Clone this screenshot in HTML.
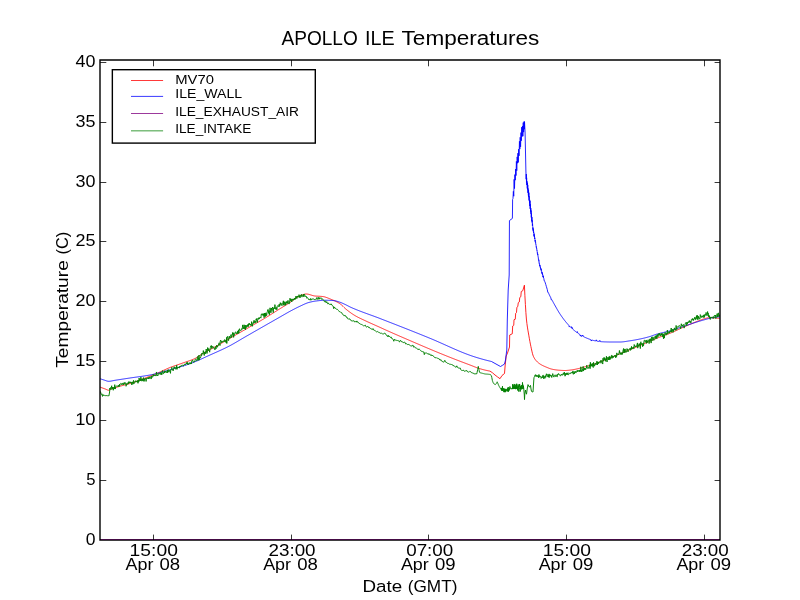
<!DOCTYPE html>
<html><head><meta charset="utf-8"><title>APOLLO ILE Temperatures</title>
<style>html,body{margin:0;padding:0;background:#fff;}body{width:800px;height:600px;overflow:hidden;font-family:"Liberation Sans", sans-serif;}svg{display:block;}</style></head>
<body>
<svg width="800" height="600" viewBox="0 0 800 600" font-family='"Liberation Sans", sans-serif' fill="#000">
<rect x="0" y="0" width="800" height="600" fill="#ffffff"/>
<defs><clipPath id="c"><rect x="100.0" y="60.0" width="620.0" height="480.6"/></clipPath></defs>
<g clip-path="url(#c)" fill="none" stroke-linejoin="round" stroke-linecap="butt">
<path d="M100.00,387.10 L100.50,387.28 L101.00,387.46 L101.50,387.64 L102.00,387.82 L102.50,388.00 L103.00,388.18 L103.50,388.36 L104.00,388.54 L104.50,388.72 L105.00,388.90 L105.50,389.10 L106.00,389.33 L106.50,389.57 L107.00,389.80 L107.50,390.00 L108.00,390.15 L108.50,390.24 L109.00,390.22 L109.50,390.04 L110.00,389.75 L110.50,389.42 L111.00,389.12 L111.50,388.90 L112.00,388.71 L112.50,388.52 L113.00,388.35 L113.50,388.18 L114.00,388.01 L114.50,387.85 L115.00,387.70 L115.50,387.55 L116.00,387.40 L116.50,387.25 L117.00,387.11 L117.50,386.97 L118.00,386.83 L118.50,386.68 L119.00,386.54 L119.50,386.40 L120.00,386.25 L120.50,386.10 L121.00,385.96 L121.50,385.82 L122.00,385.68 L122.50,385.54 L123.00,385.40 L123.50,385.27 L124.00,385.13 L124.50,385.00 L125.00,384.87 L125.50,384.73 L126.00,384.60 L126.50,384.47 L127.00,384.33 L127.50,384.20 L128.00,384.07 L128.50,383.93 L129.00,383.79 L129.50,383.65 L130.00,383.51 L130.50,383.36 L131.00,383.21 L131.50,383.06 L132.00,382.91 L132.50,382.75 L133.00,382.59 L133.50,382.42 L134.00,382.26 L134.50,382.08 L135.00,381.91 L135.50,381.73 L136.00,381.55 L136.50,381.37 L137.00,381.19 L137.50,381.00 L138.00,380.81 L138.50,380.62 L139.00,380.43 L139.50,380.24 L140.00,380.05 L140.50,379.85 L141.00,379.66 L141.50,379.46 L142.00,379.27 L142.50,379.07 L143.00,378.88 L143.50,378.68 L144.00,378.49 L144.50,378.29 L145.00,378.10 L145.50,377.91 L146.00,377.71 L146.50,377.52 L147.00,377.33 L147.50,377.13 L148.00,376.94 L148.50,376.74 L149.00,376.55 L149.50,376.35 L150.00,376.15 L150.50,375.96 L151.00,375.76 L151.50,375.56 L152.00,375.36 L152.50,375.16 L153.00,374.96 L153.50,374.75 L154.00,374.55 L154.50,374.35 L155.00,374.14 L155.50,373.94 L156.00,373.73 L156.50,373.52 L157.00,373.31 L157.50,373.10 L158.00,372.89 L158.50,372.67 L159.00,372.45 L159.50,372.23 L160.00,372.00 L160.50,371.77 L161.00,371.54 L161.50,371.31 L162.00,371.08 L162.50,370.84 L163.00,370.61 L163.50,370.37 L164.00,370.14 L164.50,369.91 L165.00,369.67 L165.50,369.44 L166.00,369.21 L166.50,368.99 L167.00,368.76 L167.50,368.54 L168.00,368.33 L168.50,368.11 L169.00,367.90 L169.50,367.70 L170.00,367.50 L170.50,367.30 L171.00,367.11 L171.50,366.92 L172.00,366.74 L172.50,366.56 L173.00,366.38 L173.50,366.20 L174.00,366.02 L174.50,365.85 L175.00,365.67 L175.50,365.50 L176.00,365.33 L176.50,365.16 L177.00,364.99 L177.50,364.82 L178.00,364.65 L178.50,364.49 L179.00,364.32 L179.50,364.15 L180.00,363.98 L180.50,363.80 L181.00,363.63 L181.50,363.46 L182.00,363.28 L182.50,363.10 L183.00,362.92 L183.50,362.75 L184.00,362.57 L184.50,362.40 L185.00,362.24 L185.50,362.07 L186.00,361.90 L186.50,361.74 L187.00,361.57 L187.50,361.40 L188.00,361.24 L188.50,361.07 L189.00,360.90 L189.50,360.72 L190.00,360.54 L190.50,360.36 L191.00,360.18 L191.50,359.99 L192.00,359.80 L192.50,359.60 L193.00,359.39 L193.50,359.18 L194.00,358.96 L194.50,358.73 L195.00,358.50 L195.50,358.25 L196.00,357.98 L196.50,357.69 L197.00,357.39 L197.50,357.07 L198.00,356.74 L198.50,356.40 L199.00,356.06 L199.50,355.72 L200.00,355.37 L200.50,355.03 L201.00,354.70 L201.50,354.37 L202.00,354.05 L202.50,353.75 L203.00,353.46 L203.50,353.17 L204.00,352.88 L204.50,352.60 L205.00,352.32 L205.50,352.04 L206.00,351.76 L206.50,351.49 L207.00,351.22 L207.50,350.95 L208.00,350.68 L208.50,350.41 L209.00,350.14 L209.50,349.88 L210.00,349.61 L210.50,349.34 L211.00,349.08 L211.50,348.81 L212.00,348.54 L212.50,348.27 L213.00,348.00 L213.50,347.73 L214.00,347.46 L214.50,347.18 L215.00,346.90 L215.50,346.62 L216.00,346.34 L216.50,346.06 L217.00,345.77 L217.50,345.49 L218.00,345.21 L218.50,344.93 L219.00,344.64 L219.50,344.36 L220.00,344.07 L220.50,343.79 L221.00,343.50 L221.50,343.21 L222.00,342.93 L222.50,342.64 L223.00,342.35 L223.50,342.06 L224.00,341.77 L224.50,341.49 L225.00,341.20 L225.50,340.91 L226.00,340.62 L226.50,340.33 L227.00,340.04 L227.50,339.75 L228.00,339.46 L228.50,339.17 L229.00,338.88 L229.50,338.59 L230.00,338.30 L230.50,338.01 L231.00,337.72 L231.50,337.43 L232.00,337.14 L232.50,336.85 L233.00,336.55 L233.50,336.26 L234.00,335.97 L234.50,335.68 L235.00,335.39 L235.50,335.10 L236.00,334.81 L236.50,334.52 L237.00,334.23 L237.50,333.94 L238.00,333.65 L238.50,333.37 L239.00,333.08 L239.50,332.79 L240.00,332.50 L240.50,332.21 L241.00,331.93 L241.50,331.64 L242.00,331.35 L242.50,331.07 L243.00,330.78 L243.50,330.50 L244.00,330.21 L244.50,329.93 L245.00,329.64 L245.50,329.36 L246.00,329.07 L246.50,328.79 L247.00,328.51 L247.50,328.22 L248.00,327.94 L248.50,327.65 L249.00,327.37 L249.50,327.09 L250.00,326.80 L250.50,326.52 L251.00,326.24 L251.50,325.95 L252.00,325.67 L252.50,325.38 L253.00,325.10 L253.50,324.81 L254.00,324.53 L254.50,324.24 L255.00,323.95 L255.50,323.67 L256.00,323.38 L256.50,323.09 L257.00,322.81 L257.50,322.52 L258.00,322.23 L258.50,321.94 L259.00,321.65 L259.50,321.36 L260.00,321.06 L260.50,320.77 L261.00,320.48 L261.50,320.18 L262.00,319.89 L262.50,319.59 L263.00,319.30 L263.50,319.00 L264.00,318.70 L264.50,318.40 L265.00,318.10 L265.50,317.80 L266.00,317.49 L266.50,317.19 L267.00,316.88 L267.50,316.57 L268.00,316.26 L268.50,315.95 L269.00,315.64 L269.50,315.33 L270.00,315.02 L270.50,314.70 L271.00,314.39 L271.50,314.07 L272.00,313.76 L272.50,313.44 L273.00,313.12 L273.50,312.80 L274.00,312.49 L274.50,312.17 L275.00,311.85 L275.50,311.54 L276.00,311.22 L276.50,310.90 L277.00,310.58 L277.50,310.27 L278.00,309.95 L278.50,309.64 L279.00,309.33 L279.50,309.01 L280.00,308.70 L280.50,308.39 L281.00,308.08 L281.50,307.78 L282.00,307.47 L282.50,307.17 L283.00,306.86 L283.50,306.56 L284.00,306.26 L284.50,305.96 L285.00,305.65 L285.50,305.35 L286.00,305.04 L286.50,304.73 L287.00,304.42 L287.50,304.11 L288.00,303.80 L288.50,303.48 L289.00,303.16 L289.50,302.83 L290.00,302.50 L290.50,302.16 L291.00,301.80 L291.50,301.42 L292.00,301.03 L292.50,300.64 L293.00,300.24 L293.50,299.84 L294.00,299.45 L294.50,299.06 L295.00,298.68 L295.50,298.31 L296.00,297.96 L296.50,297.63 L297.00,297.32 L297.50,297.05 L298.00,296.80 L298.50,296.57 L299.00,296.33 L299.50,296.09 L300.00,295.86 L300.50,295.63 L301.00,295.40 L301.50,295.18 L302.00,294.97 L302.50,294.78 L303.00,294.60 L303.50,294.44 L304.00,294.31 L304.50,294.19 L305.00,294.10 L305.50,294.04 L306.00,294.00 L306.50,294.00 L307.00,294.04 L307.50,294.10 L308.00,294.18 L308.50,294.28 L309.00,294.41 L309.50,294.55 L310.00,294.69 L310.50,294.85 L311.00,295.01 L311.50,295.17 L312.00,295.32 L312.50,295.47 L313.00,295.61 L313.50,295.74 L314.00,295.85 L314.50,295.94 L315.00,296.00 L315.50,296.05 L316.00,296.09 L316.50,296.12 L317.00,296.15 L317.50,296.18 L318.00,296.21 L318.50,296.23 L319.00,296.25 L319.50,296.28 L320.00,296.31 L320.50,296.33 L321.00,296.37 L321.50,296.41 L322.00,296.45 L322.50,296.50 L323.00,296.57 L323.50,296.65 L324.00,296.75 L324.50,296.87 L325.00,297.01 L325.50,297.16 L326.00,297.32 L326.50,297.50 L327.00,297.68 L327.50,297.87 L328.00,298.07 L328.50,298.27 L329.00,298.48 L329.50,298.68 L330.00,298.89 L330.50,299.10 L331.00,299.30 L331.50,299.50 L332.00,299.70 L332.50,299.91 L333.00,300.12 L333.50,300.33 L334.00,300.55 L334.50,300.77 L335.00,301.00 L335.50,301.24 L336.00,301.48 L336.50,301.73 L337.00,301.99 L337.50,302.26 L338.00,302.54 L338.50,302.82 L339.00,303.12 L339.50,303.43 L340.00,303.75 L340.50,304.10 L341.00,304.49 L341.50,304.92 L342.00,305.37 L342.50,305.85 L343.00,306.34 L343.50,306.83 L344.00,307.33 L344.50,307.82 L345.00,308.30 L345.50,308.76 L346.00,309.20 L346.50,309.60 L347.00,310.00 L347.50,310.39 L348.00,310.78 L348.50,311.16 L349.00,311.54 L349.50,311.91 L350.00,312.28 L350.50,312.64 L351.00,313.00 L351.50,313.35 L352.00,313.69 L352.50,314.03 L353.00,314.36 L353.50,314.68 L354.00,314.99 L354.50,315.30 L355.00,315.60 L355.50,315.89 L356.00,316.17 L356.50,316.45 L357.00,316.72 L357.50,316.99 L358.00,317.25 L358.50,317.50 L359.00,317.75 L359.50,318.00 L360.00,318.24 L360.50,318.48 L361.00,318.72 L361.50,318.96 L362.00,319.19 L362.50,319.43 L363.00,319.66 L363.50,319.89 L364.00,320.13 L364.50,320.36 L365.00,320.60 L365.50,320.84 L366.00,321.07 L366.50,321.31 L367.00,321.54 L367.50,321.77 L368.00,322.00 L368.50,322.22 L369.00,322.45 L369.50,322.68 L370.00,322.90 L370.50,323.13 L371.00,323.35 L371.50,323.57 L372.00,323.80 L372.50,324.02 L373.00,324.24 L373.50,324.46 L374.00,324.68 L374.50,324.91 L375.00,325.13 L375.50,325.35 L376.00,325.58 L376.50,325.80 L377.00,326.02 L377.50,326.25 L378.00,326.48 L378.50,326.70 L379.00,326.93 L379.50,327.16 L380.00,327.38 L380.50,327.61 L381.00,327.84 L381.50,328.06 L382.00,328.29 L382.50,328.52 L383.00,328.75 L383.50,328.97 L384.00,329.20 L384.50,329.43 L385.00,329.65 L385.50,329.88 L386.00,330.11 L386.50,330.33 L387.00,330.56 L387.50,330.78 L388.00,331.01 L388.50,331.23 L389.00,331.45 L389.50,331.68 L390.00,331.90 L390.50,332.12 L391.00,332.34 L391.50,332.56 L392.00,332.79 L392.50,333.01 L393.00,333.23 L393.50,333.45 L394.00,333.67 L394.50,333.89 L395.00,334.10 L395.50,334.32 L396.00,334.54 L396.50,334.76 L397.00,334.98 L397.50,335.20 L398.00,335.41 L398.50,335.63 L399.00,335.85 L399.50,336.07 L400.00,336.28 L400.50,336.50 L401.00,336.72 L401.50,336.93 L402.00,337.15 L402.50,337.37 L403.00,337.58 L403.50,337.80 L404.00,338.01 L404.50,338.23 L405.00,338.45 L405.50,338.66 L406.00,338.88 L406.50,339.09 L407.00,339.31 L407.50,339.52 L408.00,339.74 L408.50,339.95 L409.00,340.17 L409.50,340.38 L410.00,340.60 L410.50,340.82 L411.00,341.03 L411.50,341.25 L412.00,341.46 L412.50,341.68 L413.00,341.89 L413.50,342.11 L414.00,342.32 L414.50,342.54 L415.00,342.75 L415.50,342.97 L416.00,343.19 L416.50,343.40 L417.00,343.62 L417.50,343.83 L418.00,344.05 L418.50,344.26 L419.00,344.48 L419.50,344.69 L420.00,344.91 L420.50,345.12 L421.00,345.34 L421.50,345.55 L422.00,345.76 L422.50,345.98 L423.00,346.19 L423.50,346.41 L424.00,346.62 L424.50,346.83 L425.00,347.05 L425.50,347.26 L426.00,347.47 L426.50,347.68 L427.00,347.90 L427.50,348.11 L428.00,348.32 L428.50,348.53 L429.00,348.74 L429.50,348.95 L430.00,349.16 L430.50,349.37 L431.00,349.58 L431.50,349.79 L432.00,350.00 L432.50,350.21 L433.00,350.42 L433.50,350.63 L434.00,350.84 L434.50,351.04 L435.00,351.25 L435.50,351.46 L436.00,351.66 L436.50,351.87 L437.00,352.07 L437.50,352.28 L438.00,352.49 L438.50,352.69 L439.00,352.90 L439.50,353.10 L440.00,353.30 L440.50,353.51 L441.00,353.71 L441.50,353.92 L442.00,354.12 L442.50,354.32 L443.00,354.52 L443.50,354.73 L444.00,354.93 L444.50,355.13 L445.00,355.33 L445.50,355.53 L446.00,355.73 L446.50,355.94 L447.00,356.14 L447.50,356.34 L448.00,356.54 L448.50,356.74 L449.00,356.93 L449.50,357.13 L450.00,357.33 L450.50,357.53 L451.00,357.73 L451.50,357.93 L452.00,358.12 L452.50,358.32 L453.00,358.52 L453.50,358.71 L454.00,358.91 L454.50,359.10 L455.00,359.30 L455.50,359.49 L456.00,359.69 L456.50,359.88 L457.00,360.08 L457.50,360.27 L458.00,360.46 L458.50,360.65 L459.00,360.84 L459.50,361.04 L460.00,361.23 L460.50,361.42 L461.00,361.61 L461.50,361.80 L462.00,361.99 L462.50,362.17 L463.00,362.36 L463.50,362.55 L464.00,362.74 L464.50,362.93 L465.00,363.12 L465.50,363.31 L466.00,363.49 L466.50,363.68 L467.00,363.87 L467.50,364.06 L468.00,364.25 L468.50,364.43 L469.00,364.62 L469.50,364.81 L470.00,365.00 L470.50,365.19 L471.00,365.38 L471.50,365.58 L472.00,365.78 L472.50,365.98 L473.00,366.18 L473.50,366.38 L474.00,366.59 L474.50,366.79 L475.00,366.99 L475.50,367.18 L476.00,367.38 L476.50,367.57 L477.00,367.75 L477.50,367.93 L478.00,368.11 L478.50,368.28 L479.00,368.44 L479.50,368.60 L480.00,368.75 L480.50,368.89 L481.00,369.03 L481.50,369.17 L482.00,369.31 L482.50,369.45 L483.00,369.58 L483.50,369.71 L484.00,369.83 L484.50,369.96 L485.00,370.08 L485.50,370.20 L486.00,370.31 L486.50,370.42 L487.00,370.53 L487.50,370.64 L488.00,370.74 L488.50,370.83 L489.00,370.93 L489.50,371.02 L490.00,371.10 L492.50,372.80 L495.00,375.00 L497.50,376.90 L500.00,378.70 L502.00,375.50 L504.50,373.50 L505.20,365.00 L506.20,356.00 L507.50,353.00 L508.50,350.00 L509.50,347.00 L509.70,335.00 L512.25,333.80 L512.70,326.00 L513.75,325.25 L514.00,319.70 L515.25,319.25 L515.70,313.25 L516.50,312.50 L516.90,307.25 L517.80,306.50 L518.25,302.75 L519.30,302.00 L519.75,297.50 L520.80,296.75 L521.25,291.50 L522.75,290.75 L524.40,285.20 L524.90,295.67 L525.40,304.52 L525.90,312.58 L526.40,319.00 L526.90,323.47 L527.40,327.07 L527.90,330.14 L528.40,332.98 L528.90,335.88 L529.40,338.76 L529.90,341.52 L530.40,344.12 L530.90,346.54 L531.40,348.85 L531.90,351.14 L532.40,353.26 L532.90,355.04 L533.40,356.35 L533.90,357.39 L534.40,358.29 L534.90,359.08 L535.40,359.77 L535.90,360.38 L536.40,360.95 L536.90,361.48 L537.40,361.97 L537.90,362.42 L538.40,362.84 L538.90,363.23 L539.40,363.60 L539.90,363.93 L540.40,364.25 L540.90,364.56 L541.40,364.84 L541.90,365.12 L542.40,365.38 L542.90,365.63 L543.40,365.87 L543.90,366.10 L544.40,366.32 L544.90,366.54 L545.40,366.75 L545.90,366.96 L546.40,367.17 L546.90,367.38 L547.40,367.59 L547.90,367.79 L548.40,368.00 L548.90,368.19 L549.40,368.38 L549.90,368.57 L550.40,368.74 L550.90,368.90 L551.40,369.04 L551.90,369.17 L552.40,369.28 L552.90,369.38 L553.40,369.47 L553.90,369.56 L554.40,369.65 L554.90,369.73 L555.40,369.81 L555.90,369.88 L556.40,369.95 L556.90,370.01 L557.40,370.07 L557.90,370.13 L558.40,370.18 L558.90,370.22 L559.40,370.26 L559.90,370.29 L560.40,370.32 L560.90,370.35 L561.40,370.38 L561.90,370.41 L562.40,370.43 L562.90,370.45 L563.40,370.47 L563.90,370.49 L564.40,370.50 L564.90,370.50 L565.40,370.50 L565.90,370.48 L566.40,370.46 L566.90,370.43 L567.40,370.39 L567.90,370.35 L568.40,370.30 L568.90,370.24 L569.40,370.19 L569.90,370.13 L570.40,370.07 L570.90,370.01 L571.40,369.95 L571.90,369.88 L572.40,369.81 L572.90,369.73 L573.40,369.64 L573.90,369.55 L574.40,369.45 L574.90,369.35 L575.40,369.25 L575.90,369.15 L576.40,369.04 L576.90,368.93 L577.40,368.82 L577.90,368.71 L578.40,368.60 L578.90,368.48 L579.40,368.35 L579.90,368.22 L580.40,368.09 L580.90,367.96 L581.40,367.82 L581.90,367.68 L582.40,367.54 L582.90,367.39 L583.40,367.25 L583.90,367.11 L584.40,366.96 L584.90,366.82 L585.40,366.67 L585.90,366.53 L586.40,366.39 L586.90,366.24 L587.40,366.10 L587.90,365.96 L588.40,365.82 L588.90,365.68 L589.40,365.53 L589.90,365.39 L590.40,365.24 L590.90,365.10 L591.40,364.95 L591.90,364.79 L592.40,364.64 L592.90,364.49 L593.40,364.33 L593.90,364.17 L594.40,364.00 L594.90,363.83 L595.40,363.66 L595.90,363.49 L596.40,363.30 L596.90,363.12 L597.40,362.93 L597.90,362.74 L598.40,362.54 L598.90,362.35 L599.40,362.14 L599.90,361.94 L600.40,361.74 L600.90,361.53 L601.40,361.32 L601.90,361.11 L602.40,360.90 L602.90,360.69 L603.40,360.48 L603.90,360.28 L604.40,360.07 L604.90,359.86 L605.40,359.65 L605.90,359.45 L606.40,359.24 L606.90,359.04 L607.40,358.84 L607.90,358.64 L608.40,358.44 L608.90,358.24 L609.40,358.04 L609.90,357.84 L610.40,357.64 L610.90,357.45 L611.40,357.25 L611.90,357.05 L612.40,356.85 L612.90,356.65 L613.40,356.45 L613.90,356.25 L614.40,356.05 L614.90,355.85 L615.40,355.65 L615.90,355.45 L616.40,355.25 L616.90,355.05 L617.40,354.85 L617.90,354.65 L618.40,354.45 L618.90,354.25 L619.40,354.04 L619.90,353.84 L620.40,353.64 L620.90,353.43 L621.40,353.23 L621.90,353.03 L622.40,352.82 L622.90,352.62 L623.40,352.41 L623.90,352.21 L624.40,352.00 L624.90,351.79 L625.40,351.59 L625.90,351.38 L626.40,351.18 L626.90,350.97 L627.40,350.76 L627.90,350.55 L628.40,350.35 L628.90,350.14 L629.40,349.93 L629.90,349.72 L630.40,349.52 L630.90,349.31 L631.40,349.10 L631.90,348.89 L632.40,348.68 L632.90,348.47 L633.40,348.27 L633.90,348.06 L634.40,347.85 L634.90,347.64 L635.40,347.43 L635.90,347.22 L636.40,347.01 L636.90,346.80 L637.40,346.59 L637.90,346.38 L638.40,346.17 L638.90,345.96 L639.40,345.75 L639.90,345.54 L640.40,345.33 L640.90,345.12 L641.40,344.91 L641.90,344.70 L642.40,344.48 L642.90,344.27 L643.40,344.05 L643.90,343.84 L644.40,343.62 L644.90,343.40 L645.40,343.19 L645.90,342.97 L646.40,342.75 L646.90,342.53 L647.40,342.31 L647.90,342.10 L648.40,341.88 L648.90,341.66 L649.40,341.44 L649.90,341.23 L650.40,341.01 L650.90,340.79 L651.40,340.58 L651.90,340.36 L652.40,340.14 L652.90,339.93 L653.40,339.72 L653.90,339.50 L654.40,339.29 L654.90,339.08 L655.40,338.87 L655.90,338.66 L656.40,338.45 L656.90,338.25 L657.40,338.04 L657.90,337.84 L658.40,337.64 L658.90,337.44 L659.40,337.24 L659.90,337.04 L660.40,336.84 L660.90,336.65 L661.40,336.46 L661.90,336.28 L662.40,336.10 L662.90,335.91 L663.40,335.74 L663.90,335.56 L664.40,335.38 L664.90,335.20 L665.40,335.02 L665.90,334.84 L666.40,334.66 L666.90,334.48 L667.40,334.30 L667.90,334.11 L668.40,333.93 L668.90,333.73 L669.40,333.54 L669.90,333.34 L670.40,333.14 L670.90,332.93 L671.40,332.72 L671.90,332.50 L672.40,332.29 L672.90,332.07 L673.40,331.85 L673.90,331.62 L674.40,331.39 L674.90,331.16 L675.40,330.93 L675.90,330.70 L676.40,330.47 L676.90,330.23 L677.40,330.00 L677.90,329.76 L678.40,329.53 L678.90,329.29 L679.40,329.06 L679.90,328.82 L680.40,328.59 L680.90,328.35 L681.40,328.12 L681.90,327.89 L682.40,327.66 L682.90,327.43 L683.40,327.21 L683.90,326.98 L684.40,326.76 L684.90,326.54 L685.40,326.33 L685.90,326.11 L686.40,325.89 L686.90,325.68 L687.40,325.46 L687.90,325.24 L688.40,325.03 L688.90,324.81 L689.40,324.59 L689.90,324.38 L690.40,324.16 L690.90,323.95 L691.40,323.74 L691.90,323.52 L692.40,323.31 L692.90,323.10 L693.40,322.89 L693.90,322.69 L694.40,322.48 L694.90,322.28 L695.40,322.07 L695.90,321.87 L696.40,321.67 L696.90,321.47 L697.40,321.28 L697.90,321.09 L698.40,320.89 L698.90,320.71 L699.40,320.52 L699.90,320.34 L700.40,320.15 L700.90,319.97 L701.40,319.78 L701.90,319.60 L702.40,319.41 L702.90,319.23 L703.40,319.06 L703.90,318.89 L704.40,318.73 L704.90,318.58 L705.40,318.45 L705.90,318.32 L706.40,318.21 L706.90,318.09 L707.40,317.97 L707.90,317.86 L708.40,317.76 L708.90,317.68 L709.40,317.63 L709.90,317.60 L710.40,317.60 L710.90,317.62 L711.40,317.65 L711.90,317.69 L712.40,317.74 L712.90,317.79 L713.40,317.84 L713.90,317.90 L714.40,317.95 L714.90,317.99 L715.40,318.03 L715.90,318.07 L716.40,318.11 L716.90,318.15 L717.40,318.19 L717.90,318.23 L718.40,318.27 L718.90,318.31 L719.40,318.35 L719.90,318.39 L720.00,318.40" stroke="#ff0000" stroke-width="0.85"/>
<path d="M100.00,378.70 L100.50,378.87 L101.00,379.04 L101.50,379.21 L102.00,379.37 L102.50,379.54 L103.00,379.69 L103.50,379.85 L104.00,380.00 L104.50,380.16 L105.00,380.34 L105.50,380.52 L106.00,380.70 L106.50,380.88 L107.00,381.03 L107.50,381.16 L108.00,381.25 L108.50,381.30 L109.00,381.30 L109.50,381.27 L110.00,381.22 L110.50,381.16 L111.00,381.08 L111.50,380.99 L112.00,380.89 L112.50,380.79 L113.00,380.68 L113.50,380.58 L114.00,380.48 L114.50,380.38 L115.00,380.30 L115.50,380.22 L116.00,380.14 L116.50,380.07 L117.00,379.99 L117.50,379.91 L118.00,379.83 L118.50,379.76 L119.00,379.68 L119.50,379.60 L120.00,379.52 L120.50,379.45 L121.00,379.37 L121.50,379.29 L122.00,379.22 L122.50,379.14 L123.00,379.06 L123.50,378.99 L124.00,378.91 L124.50,378.84 L125.00,378.76 L125.50,378.68 L126.00,378.61 L126.50,378.53 L127.00,378.46 L127.50,378.38 L128.00,378.30 L128.50,378.23 L129.00,378.15 L129.50,378.08 L130.00,378.00 L130.50,377.92 L131.00,377.85 L131.50,377.78 L132.00,377.70 L132.50,377.63 L133.00,377.56 L133.50,377.49 L134.00,377.42 L134.50,377.35 L135.00,377.28 L135.50,377.21 L136.00,377.15 L136.50,377.08 L137.00,377.01 L137.50,376.94 L138.00,376.87 L138.50,376.80 L139.00,376.73 L139.50,376.67 L140.00,376.60 L140.50,376.53 L141.00,376.46 L141.50,376.38 L142.00,376.31 L142.50,376.24 L143.00,376.17 L143.50,376.09 L144.00,376.02 L144.50,375.94 L145.00,375.86 L145.50,375.78 L146.00,375.70 L146.50,375.62 L147.00,375.54 L147.50,375.45 L148.00,375.36 L148.50,375.28 L149.00,375.19 L149.50,375.09 L150.00,375.00 L150.50,374.90 L151.00,374.80 L151.50,374.70 L152.00,374.60 L152.50,374.49 L153.00,374.38 L153.50,374.27 L154.00,374.15 L154.50,374.03 L155.00,373.92 L155.50,373.79 L156.00,373.67 L156.50,373.55 L157.00,373.42 L157.50,373.29 L158.00,373.16 L158.50,373.03 L159.00,372.90 L159.50,372.76 L160.00,372.63 L160.50,372.49 L161.00,372.35 L161.50,372.21 L162.00,372.07 L162.50,371.93 L163.00,371.79 L163.50,371.65 L164.00,371.51 L164.50,371.37 L165.00,371.22 L165.50,371.08 L166.00,370.94 L166.50,370.79 L167.00,370.65 L167.50,370.51 L168.00,370.37 L168.50,370.22 L169.00,370.08 L169.50,369.94 L170.00,369.80 L170.50,369.66 L171.00,369.52 L171.50,369.38 L172.00,369.24 L172.50,369.10 L173.00,368.96 L173.50,368.82 L174.00,368.68 L174.50,368.54 L175.00,368.39 L175.50,368.25 L176.00,368.11 L176.50,367.97 L177.00,367.82 L177.50,367.68 L178.00,367.53 L178.50,367.39 L179.00,367.24 L179.50,367.09 L180.00,366.94 L180.50,366.80 L181.00,366.64 L181.50,366.49 L182.00,366.34 L182.50,366.19 L183.00,366.03 L183.50,365.88 L184.00,365.72 L184.50,365.56 L185.00,365.40 L185.50,365.24 L186.00,365.07 L186.50,364.91 L187.00,364.74 L187.50,364.57 L188.00,364.40 L188.50,364.23 L189.00,364.05 L189.50,363.88 L190.00,363.70 L190.50,363.52 L191.00,363.33 L191.50,363.15 L192.00,362.96 L192.50,362.76 L193.00,362.57 L193.50,362.37 L194.00,362.16 L194.50,361.96 L195.00,361.75 L195.50,361.54 L196.00,361.33 L196.50,361.12 L197.00,360.90 L197.50,360.69 L198.00,360.47 L198.50,360.25 L199.00,360.02 L199.50,359.80 L200.00,359.58 L200.50,359.35 L201.00,359.12 L201.50,358.90 L202.00,358.67 L202.50,358.44 L203.00,358.21 L203.50,357.98 L204.00,357.75 L204.50,357.52 L205.00,357.29 L205.50,357.06 L206.00,356.83 L206.50,356.59 L207.00,356.36 L207.50,356.14 L208.00,355.91 L208.50,355.68 L209.00,355.45 L209.50,355.23 L210.00,355.00 L210.50,354.78 L211.00,354.55 L211.50,354.33 L212.00,354.11 L212.50,353.88 L213.00,353.66 L213.50,353.44 L214.00,353.21 L214.50,352.99 L215.00,352.77 L215.50,352.55 L216.00,352.32 L216.50,352.10 L217.00,351.87 L217.50,351.65 L218.00,351.42 L218.50,351.20 L219.00,350.97 L219.50,350.74 L220.00,350.52 L220.50,350.29 L221.00,350.06 L221.50,349.83 L222.00,349.59 L222.50,349.36 L223.00,349.12 L223.50,348.89 L224.00,348.65 L224.50,348.41 L225.00,348.17 L225.50,347.93 L226.00,347.68 L226.50,347.43 L227.00,347.19 L227.50,346.94 L228.00,346.68 L228.50,346.43 L229.00,346.17 L229.50,345.91 L230.00,345.65 L230.50,345.38 L231.00,345.11 L231.50,344.84 L232.00,344.56 L232.50,344.28 L233.00,344.00 L233.50,343.72 L234.00,343.44 L234.50,343.15 L235.00,342.86 L235.50,342.57 L236.00,342.28 L236.50,341.99 L237.00,341.70 L237.50,341.40 L238.00,341.11 L238.50,340.81 L239.00,340.52 L239.50,340.22 L240.00,339.93 L240.50,339.63 L241.00,339.33 L241.50,339.04 L242.00,338.74 L242.50,338.45 L243.00,338.16 L243.50,337.87 L244.00,337.58 L244.50,337.29 L245.00,337.00 L245.50,336.71 L246.00,336.43 L246.50,336.14 L247.00,335.85 L247.50,335.57 L248.00,335.28 L248.50,334.99 L249.00,334.71 L249.50,334.42 L250.00,334.13 L250.50,333.85 L251.00,333.56 L251.50,333.27 L252.00,332.98 L252.50,332.70 L253.00,332.41 L253.50,332.12 L254.00,331.84 L254.50,331.55 L255.00,331.26 L255.50,330.98 L256.00,330.69 L256.50,330.40 L257.00,330.12 L257.50,329.83 L258.00,329.54 L258.50,329.26 L259.00,328.97 L259.50,328.69 L260.00,328.40 L260.50,328.11 L261.00,327.83 L261.50,327.54 L262.00,327.26 L262.50,326.97 L263.00,326.69 L263.50,326.40 L264.00,326.12 L264.50,325.83 L265.00,325.55 L265.50,325.26 L266.00,324.97 L266.50,324.69 L267.00,324.40 L267.50,324.12 L268.00,323.83 L268.50,323.55 L269.00,323.27 L269.50,322.98 L270.00,322.70 L270.50,322.41 L271.00,322.13 L271.50,321.84 L272.00,321.56 L272.50,321.27 L273.00,320.99 L273.50,320.70 L274.00,320.42 L274.50,320.13 L275.00,319.85 L275.50,319.56 L276.00,319.28 L276.50,318.99 L277.00,318.71 L277.50,318.42 L278.00,318.14 L278.50,317.85 L279.00,317.57 L279.50,317.28 L280.00,317.00 L280.50,316.71 L281.00,316.43 L281.50,316.14 L282.00,315.85 L282.50,315.56 L283.00,315.27 L283.50,314.98 L284.00,314.69 L284.50,314.40 L285.00,314.11 L285.50,313.82 L286.00,313.53 L286.50,313.25 L287.00,312.96 L287.50,312.68 L288.00,312.40 L288.50,312.12 L289.00,311.84 L289.50,311.57 L290.00,311.30 L290.50,311.03 L291.00,310.76 L291.50,310.49 L292.00,310.23 L292.50,309.96 L293.00,309.70 L293.50,309.43 L294.00,309.17 L294.50,308.91 L295.00,308.65 L295.50,308.40 L296.00,308.14 L296.50,307.89 L297.00,307.64 L297.50,307.39 L298.00,307.15 L298.50,306.91 L299.00,306.67 L299.50,306.43 L300.00,306.20 L300.50,305.97 L301.00,305.73 L301.50,305.49 L302.00,305.26 L302.50,305.02 L303.00,304.78 L303.50,304.55 L304.00,304.32 L304.50,304.09 L305.00,303.87 L305.50,303.66 L306.00,303.45 L306.50,303.25 L307.00,303.06 L307.50,302.89 L308.00,302.72 L308.50,302.57 L309.00,302.43 L309.50,302.30 L310.00,302.17 L310.50,302.04 L311.00,301.92 L311.50,301.80 L312.00,301.69 L312.50,301.58 L313.00,301.48 L313.50,301.39 L314.00,301.30 L314.50,301.21 L315.00,301.13 L315.50,301.06 L316.00,301.00 L316.50,300.94 L317.00,300.88 L317.50,300.82 L318.00,300.76 L318.50,300.70 L319.00,300.64 L319.50,300.59 L320.00,300.54 L320.50,300.49 L321.00,300.44 L321.50,300.40 L322.00,300.36 L322.50,300.33 L323.00,300.30 L323.50,300.28 L324.00,300.26 L324.50,300.25 L325.00,300.25 L325.50,300.25 L326.00,300.26 L326.50,300.26 L327.00,300.27 L327.50,300.28 L328.00,300.30 L328.50,300.31 L329.00,300.33 L329.50,300.35 L330.00,300.37 L330.50,300.40 L331.00,300.42 L331.50,300.45 L332.00,300.48 L332.50,300.51 L333.00,300.55 L333.50,300.58 L334.00,300.62 L334.50,300.68 L335.00,300.76 L335.50,300.86 L336.00,300.98 L336.50,301.12 L337.00,301.26 L337.50,301.42 L338.00,301.58 L338.50,301.74 L339.00,301.91 L339.50,302.08 L340.00,302.25 L340.50,302.42 L341.00,302.61 L341.50,302.81 L342.00,303.02 L342.50,303.24 L343.00,303.47 L343.50,303.70 L344.00,303.94 L344.50,304.17 L345.00,304.40 L345.50,304.63 L346.00,304.88 L346.50,305.13 L347.00,305.38 L347.50,305.64 L348.00,305.90 L348.50,306.16 L349.00,306.41 L349.50,306.67 L350.00,306.91 L350.50,307.16 L351.00,307.39 L351.50,307.61 L352.00,307.83 L352.50,308.05 L353.00,308.26 L353.50,308.48 L354.00,308.69 L354.50,308.90 L355.00,309.11 L355.50,309.31 L356.00,309.52 L356.50,309.72 L357.00,309.92 L357.50,310.12 L358.00,310.32 L358.50,310.52 L359.00,310.71 L359.50,310.91 L360.00,311.10 L360.50,311.29 L361.00,311.48 L361.50,311.67 L362.00,311.86 L362.50,312.05 L363.00,312.23 L363.50,312.42 L364.00,312.60 L364.50,312.79 L365.00,312.97 L365.50,313.15 L366.00,313.34 L366.50,313.52 L367.00,313.70 L367.50,313.88 L368.00,314.06 L368.50,314.25 L369.00,314.43 L369.50,314.61 L370.00,314.79 L370.50,314.97 L371.00,315.15 L371.50,315.33 L372.00,315.51 L372.50,315.70 L373.00,315.88 L373.50,316.06 L374.00,316.24 L374.50,316.43 L375.00,316.61 L375.50,316.80 L376.00,316.98 L376.50,317.17 L377.00,317.36 L377.50,317.54 L378.00,317.73 L378.50,317.92 L379.00,318.11 L379.50,318.31 L380.00,318.50 L380.50,318.69 L381.00,318.89 L381.50,319.08 L382.00,319.28 L382.50,319.47 L383.00,319.67 L383.50,319.86 L384.00,320.05 L384.50,320.25 L385.00,320.44 L385.50,320.64 L386.00,320.83 L386.50,321.03 L387.00,321.22 L387.50,321.42 L388.00,321.61 L388.50,321.81 L389.00,322.00 L389.50,322.19 L390.00,322.39 L390.50,322.58 L391.00,322.78 L391.50,322.97 L392.00,323.17 L392.50,323.36 L393.00,323.56 L393.50,323.75 L394.00,323.95 L394.50,324.14 L395.00,324.34 L395.50,324.54 L396.00,324.73 L396.50,324.93 L397.00,325.12 L397.50,325.32 L398.00,325.51 L398.50,325.71 L399.00,325.90 L399.50,326.10 L400.00,326.30 L400.50,326.49 L401.00,326.69 L401.50,326.89 L402.00,327.08 L402.50,327.28 L403.00,327.48 L403.50,327.67 L404.00,327.87 L404.50,328.07 L405.00,328.26 L405.50,328.46 L406.00,328.66 L406.50,328.85 L407.00,329.05 L407.50,329.25 L408.00,329.45 L408.50,329.65 L409.00,329.84 L409.50,330.04 L410.00,330.24 L410.50,330.44 L411.00,330.64 L411.50,330.84 L412.00,331.03 L412.50,331.23 L413.00,331.43 L413.50,331.63 L414.00,331.83 L414.50,332.03 L415.00,332.23 L415.50,332.43 L416.00,332.63 L416.50,332.83 L417.00,333.03 L417.50,333.23 L418.00,333.43 L418.50,333.63 L419.00,333.83 L419.50,334.03 L420.00,334.24 L420.50,334.44 L421.00,334.64 L421.50,334.84 L422.00,335.04 L422.50,335.24 L423.00,335.45 L423.50,335.65 L424.00,335.85 L424.50,336.05 L425.00,336.26 L425.50,336.46 L426.00,336.66 L426.50,336.87 L427.00,337.07 L427.50,337.28 L428.00,337.48 L428.50,337.69 L429.00,337.89 L429.50,338.09 L430.00,338.30 L430.50,338.51 L431.00,338.71 L431.50,338.92 L432.00,339.13 L432.50,339.34 L433.00,339.55 L433.50,339.76 L434.00,339.98 L434.50,340.19 L435.00,340.41 L435.50,340.62 L436.00,340.84 L436.50,341.06 L437.00,341.28 L437.50,341.50 L438.00,341.72 L438.50,341.94 L439.00,342.16 L439.50,342.38 L440.00,342.60 L440.50,342.82 L441.00,343.04 L441.50,343.27 L442.00,343.49 L442.50,343.71 L443.00,343.94 L443.50,344.16 L444.00,344.39 L444.50,344.61 L445.00,344.84 L445.50,345.06 L446.00,345.29 L446.50,345.51 L447.00,345.73 L447.50,345.96 L448.00,346.18 L448.50,346.41 L449.00,346.63 L449.50,346.85 L450.00,347.08 L450.50,347.30 L451.00,347.52 L451.50,347.74 L452.00,347.97 L452.50,348.19 L453.00,348.41 L453.50,348.63 L454.00,348.85 L454.50,349.07 L455.00,349.28 L455.50,349.50 L456.00,349.72 L456.50,349.93 L457.00,350.15 L457.50,350.36 L458.00,350.57 L458.50,350.79 L459.00,351.00 L459.50,351.21 L460.00,351.42 L460.50,351.62 L461.00,351.83 L461.50,352.04 L462.00,352.24 L462.50,352.44 L463.00,352.64 L463.50,352.84 L464.00,353.04 L464.50,353.24 L465.00,353.43 L465.50,353.63 L466.00,353.82 L466.50,354.01 L467.00,354.20 L467.50,354.39 L468.00,354.57 L468.50,354.76 L469.00,354.94 L469.50,355.12 L470.00,355.30 L470.50,355.48 L471.00,355.65 L471.50,355.82 L472.00,356.00 L472.50,356.16 L473.00,356.33 L473.50,356.50 L474.00,356.66 L474.50,356.82 L475.00,356.98 L475.50,357.14 L476.00,357.30 L476.50,357.46 L477.00,357.61 L477.50,357.76 L478.00,357.91 L478.50,358.06 L479.00,358.21 L479.50,358.36 L480.00,358.50 L480.50,358.64 L481.00,358.79 L481.50,358.93 L482.00,359.07 L482.50,359.21 L483.00,359.35 L483.50,359.48 L484.00,359.62 L484.50,359.75 L485.00,359.89 L485.50,360.02 L486.00,360.15 L486.50,360.28 L487.00,360.41 L487.50,360.54 L488.00,360.66 L488.50,360.78 L489.00,360.91 L489.50,361.03 L490.00,361.15 L490.50,361.27 L491.00,361.38 L491.50,361.50 L496.00,364.00 L500.50,366.50 L502.50,365.30 L504.50,364.00 L505.50,360.00 L506.50,352.00 L506.80,350.00 L507.30,320.00 L508.20,290.00 L509.20,275.00 L509.40,230.00 L509.45,220.60 L512.40,218.40 L512.50,210.00 L512.60,199.37 L512.98,198.55 L513.36,191.35 L513.74,196.22 L514.12,179.35 L514.50,188.57 L514.88,174.62 L515.26,180.16 L515.64,169.03 L516.02,175.59 L516.40,161.35 L516.78,170.69 L517.16,156.86 L517.54,163.18 L517.92,153.17 L518.30,162.41 L518.68,149.17 L519.06,155.83 L519.44,141.30 L519.82,149.10 L520.20,137.26 L520.58,146.87 L520.96,132.62 L521.34,140.75 L521.72,127.13 L522.10,136.47 L522.48,125.98 L522.86,136.22 L523.24,122.63 L523.62,132.14 L524.00,121.60 L524.38,129.19 L524.50,121.60 L525.10,133.00 L525.90,171.00 L526.00,174.00 L526.16,179.20 L526.32,174.09 L526.48,182.52 L526.64,177.78 L526.80,185.02 L526.96,181.23 L527.12,184.13 L527.28,188.45 L527.44,182.89 L527.60,189.47 L527.76,184.90 L527.92,192.77 L528.08,188.50 L528.24,191.60 L528.40,195.50 L528.56,190.18 L528.72,197.12 L528.88,192.68 L529.04,200.44 L529.20,196.31 L529.36,199.70 L529.52,203.30 L529.68,199.87 L529.84,205.97 L530.00,200.84 L530.16,208.88 L530.32,204.21 L530.48,208.10 L530.64,211.60 L530.80,208.14 L530.96,213.84 L531.12,210.53 L531.28,217.46 L531.44,213.52 L531.60,217.10 L531.76,221.11 L531.92,217.09 L532.08,222.42 L532.24,220.40 L532.40,225.75 L532.56,223.67 L532.72,226.62 L532.88,229.59 L533.04,227.66 L533.20,231.19 L533.36,229.30 L533.52,232.89 L533.68,231.66 L533.84,233.48 L534.00,236.16 L534.16,233.70 L534.32,236.95 L534.48,235.63 L534.64,238.90 L534.80,237.75 L534.96,239.45 L535.12,241.47 L535.28,240.19 L535.44,242.38 L535.60,241.88 L535.76,244.26 L535.92,244.11 L536.08,245.45 L536.24,247.24 L536.40,246.71 L536.56,248.69 L536.72,248.45 L536.88,250.48 L537.04,250.22 L537.20,251.69 L537.36,253.42 L537.52,252.69 L537.68,254.99 L537.84,254.32 L538.00,256.57 L538.16,256.58 L538.32,257.93 L538.48,259.37 L538.64,259.02 L538.80,261.15 L538.96,260.53 L539.12,263.20 L539.28,262.92 L539.44,264.17 L539.60,265.70 L539.76,264.85 L539.92,266.30 L540.08,265.58 L540.24,267.43 L540.40,266.90 L540.56,267.99 L540.72,269.06 L540.88,268.35 L541.04,270.18 L541.20,269.05 L541.36,271.16 L541.52,270.77 L541.68,271.67 L541.84,273.21 L542.00,272.19 L542.16,273.74 L542.32,272.87 L542.48,275.08 L542.64,274.46 L542.80,275.36 L542.96,276.84 L543.12,275.71 L543.28,277.33 L543.30,276.45 L543.30,277.00 L543.80,278.44 L544.30,281.10 L544.80,281.39 L545.30,282.94 L545.80,284.58 L546.30,286.29 L546.80,287.99 L547.30,289.63 L547.80,292.35 L548.30,292.50 L548.80,293.69 L549.30,294.79 L549.80,295.82 L550.30,296.80 L550.80,297.75 L551.30,299.88 L551.80,299.62 L552.30,300.57 L552.80,301.51 L553.30,302.44 L553.80,303.35 L554.30,304.25 L554.80,305.15 L555.30,306.03 L555.80,306.92 L556.30,307.81 L556.80,308.69 L557.30,309.56 L557.80,310.43 L558.30,311.28 L558.80,312.11 L559.30,312.91 L559.80,313.70 L560.30,314.45 L560.80,315.19 L561.30,315.92 L561.80,316.64 L562.30,317.34 L562.80,318.03 L563.30,318.71 L563.80,319.38 L564.30,320.03 L564.80,320.67 L565.30,321.29 L565.80,321.90 L566.30,322.50 L566.80,323.09 L567.30,323.66 L567.80,324.23 L568.30,324.78 L568.80,325.33 L569.30,327.06 L569.80,326.38 L570.30,326.88 L570.80,327.38 L571.30,326.66 L571.80,328.32 L572.30,327.57 L572.80,329.21 L573.30,329.64 L573.80,330.07 L574.30,330.48 L574.80,330.89 L575.30,331.28 L575.80,331.67 L576.30,332.05 L576.80,332.42 L577.30,331.58 L577.80,333.13 L578.30,333.47 L578.80,333.80 L579.30,334.12 L579.80,334.44 L580.30,335.96 L580.80,335.06 L581.30,336.57 L581.80,335.66 L582.30,335.95 L582.80,335.03 L583.30,336.50 L583.80,336.76 L584.30,337.02 L584.80,337.26 L585.30,337.49 L585.80,337.71 L586.30,337.93 L586.80,338.13 L587.30,338.34 L587.80,338.54 L588.30,338.74 L588.80,338.94 L589.30,339.13 L589.80,339.32 L590.30,339.50 L590.80,339.67 L591.30,341.04 L591.80,340.00 L592.30,340.15 L592.80,340.29 L593.30,340.43 L593.80,340.55 L594.30,340.66 L594.80,340.76 L595.30,340.85 L595.80,340.94 L596.30,339.83 L596.80,341.11 L597.30,341.19 L597.80,341.27 L598.30,341.34 L598.80,341.41 L599.30,341.47 L599.80,340.33 L600.30,341.59 L600.80,341.64 L601.30,341.69 L601.80,341.73 L602.30,341.76 L602.80,341.79 L603.30,341.81 L603.80,341.84 L604.30,341.86 L604.80,341.88 L605.30,341.90 L605.80,341.92 L606.30,341.93 L606.80,341.95 L607.30,341.96 L607.80,341.97 L608.30,341.98 L608.80,341.99 L609.30,342.00 L609.80,342.00 L610.30,342.00 L610.80,342.00 L611.30,342.00 L611.80,342.00 L612.30,342.00 L612.80,342.00 L613.30,342.00 L613.80,342.00 L614.30,342.00 L614.80,342.00 L615.30,342.00 L615.80,342.00 L616.30,342.00 L616.80,342.00 L617.30,342.00 L617.80,342.00 L618.30,342.00 L618.80,342.00 L619.30,342.00 L619.80,342.00 L620.30,342.00 L620.80,341.99 L621.30,341.97 L621.80,341.94 L622.30,341.90 L622.80,341.85 L623.30,341.80 L623.80,341.74 L624.30,341.68 L624.80,341.61 L625.30,341.54 L625.80,341.46 L626.30,341.38 L626.80,341.30 L627.30,341.22 L627.80,341.14 L628.30,341.06 L628.80,340.98 L629.30,340.90 L629.80,340.83 L630.30,340.76 L630.80,340.68 L631.30,340.61 L631.80,340.53 L632.30,340.45 L632.80,340.36 L633.30,340.28 L633.80,340.19 L634.30,340.11 L634.80,340.02 L635.30,339.93 L635.80,339.83 L636.30,339.74 L636.80,339.64 L637.30,339.55 L637.80,339.45 L638.30,339.35 L638.80,339.25 L639.30,339.15 L639.80,339.04 L640.30,338.94 L640.80,338.83 L641.30,338.72 L641.80,338.61 L642.30,338.50 L642.80,338.38 L643.30,338.27 L643.80,338.15 L644.30,338.03 L644.80,337.91 L645.30,337.78 L645.80,337.66 L646.30,337.53 L646.80,337.40 L647.30,337.26 L647.80,337.13 L648.30,336.99 L648.80,336.85 L649.30,336.70 L649.80,336.56 L650.30,336.41 L650.80,336.25 L651.30,336.08 L651.80,335.90 L652.30,335.72 L652.80,335.53 L653.30,335.34 L653.80,335.16 L654.30,334.97 L654.80,334.79 L655.30,334.62 L655.80,334.46 L656.30,334.31 L656.80,334.16 L657.30,334.02 L657.80,333.88 L658.30,333.74 L658.80,333.61 L659.30,333.48 L659.80,333.35 L660.30,333.23 L660.80,333.10 L661.30,332.98 L661.80,332.86 L662.30,332.74 L662.80,332.62 L663.30,332.50 L663.80,332.38 L664.30,332.26 L664.80,332.14 L665.30,332.02 L665.80,331.90 L666.30,331.78 L666.80,331.65 L667.30,331.53 L667.80,331.40 L668.30,331.27 L668.80,331.13 L669.30,331.00 L669.80,330.86 L670.30,330.71 L670.80,330.57 L671.30,330.42 L671.80,330.27 L672.30,330.11 L672.80,329.96 L673.30,329.80 L673.80,329.64 L674.30,329.48 L674.80,329.31 L675.30,329.15 L675.80,328.99 L676.30,328.82 L676.80,328.66 L677.30,328.49 L677.80,328.32 L678.30,328.16 L678.80,327.99 L679.30,327.83 L679.80,327.67 L680.30,327.50 L680.80,327.34 L681.30,327.17 L681.80,327.01 L682.30,326.84 L682.80,326.67 L683.30,326.50 L683.80,326.34 L684.30,326.17 L684.80,326.00 L685.30,325.83 L685.80,325.66 L686.30,325.49 L686.80,325.32 L687.30,325.15 L687.80,324.98 L688.30,324.81 L688.80,324.64 L689.30,324.47 L689.80,324.30 L690.30,324.13 L690.80,323.97 L691.30,323.80 L691.80,323.63 L692.30,323.47 L692.80,323.31 L693.30,323.14 L693.80,322.98 L694.30,322.82 L694.80,322.66 L695.30,322.51 L695.80,322.35 L696.30,322.19 L696.80,322.04 L697.30,321.88 L697.80,321.72 L698.30,321.57 L698.80,321.42 L699.30,321.26 L699.80,321.11 L700.30,320.96 L700.80,320.81 L701.30,320.66 L701.80,320.51 L702.30,320.37 L702.80,320.22 L703.30,320.08 L703.80,319.94 L704.30,319.79 L704.80,319.66 L705.30,319.52 L705.80,319.38 L706.30,319.23 L706.80,319.09 L707.30,318.94 L707.80,318.80 L708.30,318.66 L708.80,318.53 L709.30,318.39 L709.80,318.27 L710.30,318.15 L710.80,318.03 L711.30,317.93 L711.80,317.83 L712.30,317.75 L712.80,317.67 L713.30,317.58 L713.80,317.50 L714.30,317.43 L714.80,317.35 L715.30,317.28 L715.80,317.21 L716.30,317.15 L716.80,317.08 L717.30,317.03 L717.80,316.97 L718.30,316.93 L718.80,316.88 L719.30,316.84 L719.80,316.81 L720.00,316.80" stroke="#0000ff" stroke-width="0.85"/>
<path d="M100,539.55 L720,539.55" stroke="#800080" stroke-width="0.8"/>
<path d="M100.00,391.25 L100.53,391.75 L101.05,393.96 L101.53,394.42 L101.93,393.83 L102.47,396.40 L103.09,394.55 L103.51,395.51 L104.13,394.97 L104.76,395.68 L105.20,395.70 L105.76,395.70 L106.19,395.08 L106.62,395.70 L107.22,395.71 L107.86,395.72 L108.33,395.68 L108.89,396.06 L109.60,392.00 L109.90,388.00 L109.90,389.37 L110.23,389.58 L110.64,387.60 L111.04,387.91 L111.37,387.25 L111.68,385.74 L111.92,389.50 L112.23,387.04 L112.59,388.37 L113.00,387.36 L113.32,390.25 L113.64,389.19 L113.98,387.08 L114.36,388.84 L114.77,384.67 L115.06,388.59 L115.37,389.07 L115.76,386.65 L116.19,386.07 L116.52,385.93 L116.83,386.10 L117.25,385.96 L117.56,386.07 L117.99,386.70 L118.36,385.17 L118.72,386.41 L119.09,386.83 L119.51,384.30 L119.79,385.66 L120.11,384.43 L120.42,383.88 L120.81,383.27 L121.23,383.54 L121.58,383.73 L121.83,384.95 L122.25,384.46 L122.67,383.26 L123.09,382.95 L123.39,384.83 L123.65,383.78 L123.95,384.29 L124.30,382.47 L124.70,383.75 L125.05,383.66 L125.34,382.62 L125.70,383.10 L126.07,386.27 L126.40,385.56 L126.79,383.43 L127.09,383.54 L127.40,384.04 L127.65,384.38 L127.88,382.68 L128.23,382.50 L128.55,383.82 L128.88,381.58 L129.14,383.12 L129.43,381.90 L129.76,382.42 L130.11,382.93 L130.43,381.82 L130.80,383.05 L131.15,382.15 L131.39,382.10 L131.81,384.97 L132.22,383.35 L132.57,381.85 L132.85,382.77 L133.15,384.15 L133.48,380.38 L133.88,381.68 L134.16,383.54 L134.54,382.87 L134.82,382.52 L135.24,380.91 L135.60,381.45 L135.84,380.66 L136.27,382.09 L136.61,381.40 L136.91,381.74 L137.32,382.11 L137.71,380.41 L138.00,383.29 L138.41,380.16 L138.81,381.94 L139.10,378.01 L139.52,380.58 L139.80,379.89 L140.13,379.16 L140.53,380.73 L140.89,377.10 L141.13,380.14 L141.37,381.08 L141.72,380.82 L141.98,378.76 L142.39,380.53 L142.77,379.07 L143.13,381.16 L143.45,377.59 L143.85,378.68 L144.13,381.40 L144.39,379.20 L144.69,379.93 L145.02,378.59 L145.33,378.15 L145.76,379.23 L146.09,381.45 L146.45,379.08 L146.70,378.14 L147.08,378.89 L147.40,378.51 L147.80,377.68 L148.06,377.30 L148.30,378.88 L148.71,377.61 L148.97,378.88 L149.28,377.46 L149.52,377.26 L149.86,378.19 L150.16,376.71 L150.43,376.76 L150.80,377.17 L151.09,379.05 L151.40,377.97 L151.70,376.00 L152.03,377.10 L152.40,377.01 L152.81,377.16 L153.21,374.35 L153.59,376.04 L153.83,375.27 L154.18,375.78 L154.44,375.67 L154.83,374.87 L155.17,375.95 L155.58,375.52 L155.85,376.07 L156.18,373.98 L156.44,371.98 L156.70,375.03 L157.07,375.90 L157.47,375.16 L157.87,375.94 L158.12,373.47 L158.43,374.25 L158.81,373.52 L159.22,373.71 L159.52,373.53 L159.85,374.25 L160.14,372.71 L160.43,372.62 L160.82,374.11 L161.10,374.82 L161.48,372.82 L161.87,374.65 L162.17,371.17 L162.46,370.58 L162.85,372.23 L163.14,373.59 L163.54,373.65 L163.89,372.38 L164.14,371.80 L164.48,373.04 L164.84,370.66 L165.12,372.36 L165.48,371.82 L165.77,371.16 L166.09,372.49 L166.46,372.28 L166.75,371.76 L167.13,372.81 L167.40,370.19 L167.73,372.72 L168.14,369.49 L168.48,370.60 L168.79,372.01 L169.14,371.40 L169.50,371.05 L169.74,370.25 L170.05,371.68 L170.48,373.35 L170.78,369.80 L171.18,369.85 L171.46,368.57 L171.80,367.27 L172.16,369.90 L172.55,370.08 L172.91,369.32 L173.21,370.77 L173.45,368.82 L173.80,368.85 L174.10,366.75 L174.36,367.95 L174.67,368.19 L175.01,366.93 L175.25,368.36 L175.63,369.25 L176.00,368.41 L176.33,368.86 L176.71,365.19 L176.98,369.41 L177.28,367.63 L177.71,367.71 L177.94,367.15 L178.23,367.54 L178.47,367.14 L178.71,367.35 L178.94,367.95 L179.28,368.06 L179.59,366.33 L179.92,366.11 L180.25,366.95 L180.63,366.02 L181.05,365.67 L181.35,366.16 L181.63,365.48 L182.05,365.34 L182.32,364.84 L182.58,365.10 L182.94,365.79 L183.32,366.13 L183.63,365.07 L183.97,364.70 L184.26,364.65 L184.68,363.88 L184.92,364.63 L185.32,364.85 L185.74,364.05 L186.13,363.43 L186.41,363.98 L186.80,362.60 L187.08,361.89 L187.49,364.10 L187.75,362.74 L188.07,364.74 L188.33,364.02 L188.70,364.02 L188.94,364.15 L189.29,363.05 L189.54,362.84 L189.85,363.38 L190.10,362.50 L190.49,364.07 L190.86,363.43 L191.16,362.83 L191.42,363.79 L191.80,360.83 L192.14,361.13 L192.56,360.18 L192.95,360.44 L193.24,361.85 L193.66,362.36 L193.92,362.16 L194.31,361.34 L194.60,361.90 L194.92,361.31 L195.16,359.31 L195.59,359.04 L196.00,359.52 L196.43,360.51 L196.79,360.39 L197.00,360.76 L197.32,357.52 L197.63,356.56 L198.00,360.29 L198.31,360.14 L198.64,357.34 L199.03,355.07 L199.26,360.12 L199.55,359.42 L199.93,357.32 L200.27,357.22 L200.55,357.74 L200.80,356.76 L201.22,354.57 L201.61,355.67 L201.95,353.05 L202.25,353.97 L202.53,354.01 L202.82,353.26 L203.06,352.82 L203.32,350.57 L203.59,352.00 L203.93,354.48 L204.28,355.49 L204.58,352.44 L204.84,353.37 L205.15,351.69 L205.55,353.74 L205.80,352.40 L206.21,349.01 L206.60,350.84 L206.99,353.47 L207.42,350.72 L207.65,347.55 L208.02,350.94 L208.32,350.07 L208.66,348.54 L208.91,349.73 L209.25,350.18 L209.65,352.19 L210.01,349.42 L210.39,347.59 L210.62,346.16 L210.86,345.80 L211.18,346.54 L211.47,345.63 L211.75,348.51 L212.01,345.97 L212.37,346.51 L212.74,347.51 L213.02,347.15 L213.27,346.70 L213.60,347.45 L213.91,348.50 L214.21,348.78 L214.63,348.32 L214.94,349.89 L215.35,346.69 L215.70,346.92 L215.96,348.89 L216.30,347.60 L216.57,345.31 L216.93,346.40 L217.18,345.97 L217.52,347.23 L217.85,345.55 L218.12,345.51 L218.44,345.44 L218.75,343.31 L219.17,342.77 L219.59,343.53 L219.98,345.60 L220.23,341.37 L220.59,340.08 L220.93,341.35 L221.34,342.81 L221.63,342.45 L221.87,340.87 L222.24,342.30 L222.61,341.66 L223.03,341.90 L223.45,341.13 L223.79,341.56 L224.10,340.08 L224.52,339.61 L224.77,341.52 L225.18,342.13 L225.50,341.22 L225.76,341.12 L226.05,339.88 L226.29,342.92 L226.54,337.47 L226.80,343.48 L227.04,338.80 L227.34,336.53 L227.67,336.46 L227.97,338.50 L228.24,338.46 L228.57,340.65 L228.89,338.50 L229.30,336.10 L229.70,338.22 L229.96,337.83 L230.38,337.76 L230.63,336.53 L230.88,334.94 L231.15,334.50 L231.38,337.50 L231.77,336.33 L232.05,336.36 L232.31,335.13 L232.61,332.52 L233.03,334.35 L233.32,332.78 L233.61,337.35 L233.84,335.08 L234.26,335.28 L234.63,333.37 L235.03,332.63 L235.35,332.11 L235.76,331.76 L236.11,333.92 L236.50,333.07 L236.75,332.86 L237.12,333.55 L237.52,331.25 L237.94,333.87 L238.25,330.86 L238.52,329.92 L238.87,333.11 L239.16,329.87 L239.50,328.73 L239.77,330.11 L240.12,329.86 L240.49,330.51 L240.81,330.82 L241.21,330.00 L241.50,329.49 L241.84,328.61 L242.08,329.36 L242.37,327.68 L242.65,324.90 L242.96,327.28 L243.39,328.88 L243.69,326.41 L244.07,324.77 L244.47,327.15 L244.76,329.04 L245.16,325.10 L245.52,329.73 L245.80,326.63 L246.14,325.11 L246.41,327.51 L246.83,327.20 L247.11,325.73 L247.37,326.34 L247.74,324.49 L248.03,325.73 L248.34,326.64 L248.58,323.67 L248.83,325.21 L249.15,324.03 L249.42,323.27 L249.68,324.21 L250.06,324.99 L250.43,324.15 L250.78,325.28 L251.18,325.92 L251.59,321.64 L252.01,323.99 L252.44,326.27 L252.71,323.37 L253.04,322.71 L253.45,323.44 L253.79,320.56 L254.10,320.87 L254.34,320.51 L254.61,322.90 L255.03,323.16 L255.42,321.29 L255.81,322.54 L256.17,318.92 L256.42,319.99 L256.66,318.58 L257.03,321.43 L257.42,322.45 L257.67,319.69 L258.02,318.25 L258.31,318.77 L258.56,319.33 L258.89,317.61 L259.22,319.05 L259.48,318.08 L259.79,317.87 L260.17,317.01 L260.56,317.52 L260.91,318.15 L261.25,314.30 L261.66,314.77 L262.05,313.62 L262.37,314.85 L262.65,315.30 L263.04,313.90 L263.37,315.51 L263.70,313.66 L264.12,317.72 L264.48,313.10 L264.75,316.14 L265.05,313.15 L265.43,316.59 L265.82,312.85 L266.21,314.12 L266.64,315.76 L267.04,312.27 L267.35,311.62 L267.78,309.66 L268.14,309.33 L268.53,313.28 L268.80,313.30 L269.04,310.67 L269.40,314.69 L269.66,312.55 L270.04,307.81 L270.43,310.21 L270.81,312.76 L271.05,312.78 L271.44,307.98 L271.80,309.79 L272.05,310.42 L272.35,308.41 L272.59,307.03 L272.93,308.07 L273.24,312.61 L273.56,308.13 L273.95,307.68 L274.24,308.98 L274.48,308.68 L274.90,304.64 L275.25,306.58 L275.51,307.64 L275.80,309.42 L276.10,307.47 L276.45,307.56 L276.84,309.75 L277.21,306.44 L277.64,305.98 L277.88,305.53 L278.21,306.38 L278.45,306.10 L278.78,306.62 L279.03,304.78 L279.28,304.08 L279.56,306.45 L279.90,306.10 L280.28,302.65 L280.59,304.36 L280.86,303.68 L281.23,303.45 L281.56,303.75 L281.96,305.72 L282.24,303.30 L282.52,303.38 L282.94,303.16 L283.36,300.82 L283.63,305.26 L283.94,303.64 L284.19,302.12 L284.51,301.72 L284.94,305.44 L285.34,302.36 L285.59,304.96 L286.01,304.36 L286.27,301.48 L286.61,302.85 L286.97,301.77 L287.31,303.60 L287.69,301.00 L287.95,300.33 L288.28,300.70 L288.60,301.62 L289.00,304.10 L289.40,301.53 L289.63,302.35 L289.89,301.37 L290.00,298.18 L290.32,300.85 L290.68,299.25 L291.09,300.04 L291.44,299.60 L291.76,301.96 L292.05,298.83 L292.31,300.23 L292.73,299.60 L293.11,299.18 L293.43,300.24 L293.73,299.18 L294.04,300.00 L294.29,298.05 L294.52,298.73 L294.94,298.04 L295.18,297.99 L295.50,299.32 L295.92,296.15 L296.24,297.38 L296.57,296.58 L296.83,298.62 L297.07,297.57 L297.31,297.22 L297.61,295.96 L297.89,296.78 L298.16,297.04 L298.41,296.83 L298.76,296.87 L299.01,294.65 L299.43,297.26 L299.71,295.91 L300.05,297.86 L300.44,295.43 L300.71,295.60 L301.11,295.01 L301.37,294.33 L301.73,296.31 L302.00,297.10 L302.28,295.43 L302.69,294.92 L302.99,295.43 L303.36,295.93 L303.62,294.05 L303.87,296.98 L304.15,295.51 L304.50,294.31 L305.03,295.65 L305.42,295.98 L305.93,296.82 L306.34,296.37 L306.92,298.31 L307.40,297.58 L307.90,298.19 L308.44,298.90 L308.83,299.82 L309.19,299.28 L309.76,299.53 L310.20,300.25 L310.71,298.43 L311.10,299.86 L311.59,299.90 L312.15,298.84 L312.59,299.16 L313.15,298.60 L313.69,299.33 L314.07,299.82 L314.53,299.54 L315.05,299.81 L315.57,299.09 L316.03,298.84 L316.41,299.21 L316.96,297.41 L317.47,298.85 L317.79,299.61 L318.27,299.24 L318.76,297.14 L319.32,297.84 L319.67,299.19 L320.09,298.60 L320.53,298.27 L320.94,297.68 L321.44,298.65 L321.90,299.54 L322.39,298.73 L322.95,299.59 L323.40,299.88 L323.94,300.44 L324.45,301.77 L324.83,301.98 L325.00,301.77 L325.65,300.85 L326.12,302.85 L326.80,301.69 L327.57,303.70 L328.34,303.04 L328.87,304.10 L329.38,304.33 L329.86,304.42 L330.43,304.12 L330.85,304.80 L331.35,303.89 L331.86,305.21 L332.60,305.65 L333.13,306.03 L333.72,308.70 L334.35,306.94 L335.02,308.09 L335.52,308.40 L336.24,309.20 L336.85,309.18 L337.45,309.35 L338.23,310.30 L338.71,310.74 L339.42,311.73 L339.88,311.48 L340.62,312.33 L341.05,312.50 L341.74,312.67 L342.23,313.88 L342.82,314.40 L343.41,315.14 L343.89,314.87 L344.34,316.08 L345.08,315.29 L345.77,316.58 L346.37,316.63 L346.85,317.84 L347.47,317.79 L347.92,318.89 L348.46,319.19 L348.94,318.69 L349.70,318.98 L350.21,319.85 L350.77,319.80 L351.38,320.88 L352.16,321.07 L352.81,320.90 L353.27,320.92 L353.85,320.58 L354.58,321.92 L355.10,321.69 L355.52,321.48 L356.15,322.23 L356.88,320.93 L357.64,322.32 L358.18,322.32 L358.83,322.82 L359.27,323.63 L359.84,323.47 L360.46,324.25 L360.99,324.20 L361.70,324.56 L362.42,324.90 L362.86,325.25 L363.55,325.82 L364.14,325.76 L364.74,325.48 L365.19,325.07 L365.95,326.65 L366.69,327.05 L367.39,326.57 L367.86,326.43 L368.37,327.33 L369.01,326.92 L369.46,327.93 L370.18,328.00 L370.65,328.55 L371.20,328.60 L371.65,329.33 L372.38,329.56 L372.96,328.54 L373.68,329.91 L374.20,330.55 L374.74,330.31 L375.36,330.82 L375.98,331.33 L376.70,331.93 L377.24,331.46 L377.99,331.88 L378.45,332.22 L379.04,332.38 L379.66,332.65 L380.21,333.45 L380.73,333.15 L381.27,333.24 L381.88,333.29 L382.49,333.87 L382.97,333.64 L383.74,334.09 L384.22,333.35 L384.89,333.10 L385.64,333.77 L386.23,335.09 L386.68,335.65 L387.35,335.53 L388.00,336.94 L388.48,335.46 L389.04,336.55 L389.74,336.34 L390.46,337.57 L391.24,337.08 L392.00,338.90 L392.64,338.93 L393.19,339.44 L393.80,341.26 L394.41,339.08 L395.09,339.92 L395.60,340.19 L396.23,340.18 L396.95,340.69 L397.49,340.54 L397.91,340.55 L398.40,340.58 L398.95,341.55 L399.46,341.98 L400.08,340.51 L400.78,340.54 L401.35,341.81 L401.83,341.56 L402.28,342.04 L402.92,341.89 L403.36,342.73 L404.12,342.21 L404.74,342.13 L405.21,343.02 L405.65,343.97 L406.38,343.73 L406.99,343.85 L407.52,344.60 L408.07,344.50 L408.85,344.47 L409.31,344.77 L409.96,345.24 L410.41,345.57 L410.95,346.31 L411.53,345.89 L412.22,345.60 L412.93,345.03 L413.51,347.10 L413.94,347.19 L414.69,346.70 L415.24,347.67 L415.88,348.09 L416.50,348.22 L416.95,348.49 L417.72,349.07 L418.26,349.79 L419.01,348.80 L419.61,349.52 L420.15,350.21 L420.61,350.60 L421.15,351.26 L421.90,351.08 L422.40,351.65 L423.15,351.91 L423.82,351.88 L424.30,354.63 L425.06,352.69 L425.49,353.13 L426.13,352.89 L426.71,353.19 L427.27,353.69 L427.83,353.56 L428.28,353.51 L428.94,354.60 L429.57,353.80 L430.24,355.06 L430.67,355.35 L431.24,354.75 L432.01,356.03 L432.49,355.33 L432.97,355.94 L433.49,356.06 L433.95,356.77 L434.56,357.49 L435.16,357.99 L435.86,357.31 L436.63,358.07 L437.20,358.18 L437.74,358.30 L438.42,358.58 L439.11,358.73 L439.79,359.91 L440.34,360.06 L440.90,359.56 L441.40,360.86 L442.17,361.47 L442.84,361.37 L443.53,362.33 L444.10,361.58 L444.80,360.29 L445.36,361.91 L445.99,362.06 L446.73,362.61 L447.20,362.78 L447.71,363.53 L448.47,363.51 L448.91,363.95 L449.53,364.17 L450.12,364.23 L450.81,364.39 L451.57,364.52 L452.10,364.59 L452.85,365.09 L453.28,365.85 L453.99,365.49 L454.67,366.32 L455.38,367.09 L456.06,367.31 L456.75,365.83 L457.52,367.45 L458.24,368.00 L458.99,367.72 L459.67,368.22 L460.26,368.05 L460.71,369.56 L461.19,370.10 L461.84,370.48 L462.59,370.44 L463.37,370.05 L464.02,370.99 L464.68,371.29 L465.37,370.93 L466.06,370.76 L466.77,370.46 L467.25,371.65 L467.98,371.67 L468.48,372.11 L469.19,372.02 L469.80,371.39 L470.32,371.57 L470.99,371.90 L471.57,372.75 L472.03,372.99 L472.63,372.99 L473.15,373.30 L473.84,373.25 L474.58,374.23 L475.14,373.45 L475.74,374.19 L476.23,373.63 L476.80,373.80 L477.10,372.38 L477.40,370.95 L477.70,369.49 L478.00,367.94 L478.30,366.40 L478.60,367.94 L478.90,369.49 L479.20,370.87 L479.50,372.17 L479.80,372.65 L480.10,372.73 L480.40,372.80 L480.70,372.88 L481.00,372.95 L481.30,373.03 L481.60,373.10 L481.90,373.18 L482.20,373.25 L482.50,373.33 L482.80,373.41 L483.10,373.49 L483.40,373.57 L483.70,373.65 L484.00,373.73 L484.30,373.81 L484.60,373.89 L484.90,373.97 L485.20,374.01 L485.50,374.03 L485.80,374.05 L486.10,374.07 L486.40,374.09 L486.70,374.11 L487.00,374.13 L487.30,374.15 L487.60,374.17 L487.90,374.19 L488.20,374.22 L488.50,374.26 L488.80,374.30 L489.10,374.33 L489.40,374.37 L489.70,374.40 L490.00,374.44 L490.30,374.48 L490.60,374.65 L490.90,375.10 L491.20,375.55 L491.50,376.00 L491.80,377.50 L492.10,379.00 L492.40,380.50 L492.70,381.51 L493.00,382.29 L493.30,382.95 L493.60,383.40 L493.90,383.85 L494.20,384.08 L494.50,384.20 L494.80,384.32 L495.10,384.44 L495.40,384.56 L495.70,384.33 L496.00,383.93 L496.30,383.53 L496.60,383.00 L496.90,382.40 L497.20,381.80 L497.50,382.50 L497.80,383.20 L498.10,383.97 L498.40,384.74 L498.70,385.40 L499.00,386.00 L499.30,386.60 L499.60,387.16 L499.90,387.64 L500.20,388.12 L500.50,388.60 L500.80,389.03 L501.10,389.46 L501.20,389.60 L501.40,387.91 L501.56,390.46 L501.71,388.53 L501.86,390.17 L502.10,390.73 L502.29,389.46 L502.47,386.20 L502.69,390.87 L502.91,389.56 L503.14,389.14 L503.37,390.00 L503.54,388.37 L503.69,389.95 L503.86,392.13 L504.02,388.75 L504.18,389.83 L504.33,389.78 L504.58,391.86 L504.82,388.63 L505.05,392.27 L505.25,391.34 L505.43,391.54 L505.58,389.22 L505.83,391.50 L506.06,390.04 L506.28,389.47 L506.48,390.43 L506.72,390.41 L506.88,390.45 L507.05,388.85 L507.21,390.29 L507.37,391.44 L507.60,389.92 L507.75,388.17 L507.96,390.30 L508.20,387.01 L508.45,391.69 L508.65,388.96 L508.89,389.23 L509.07,390.60 L509.28,390.24 L509.47,388.26 L509.71,389.27 L509.91,386.50 L510.20,388.56 L510.76,388.32 L511.15,388.68 L511.61,389.02 L512.20,387.96 L512.36,389.11 L512.51,386.62 L512.63,384.21 L512.75,387.01 L512.88,387.59 L513.04,386.73 L513.23,386.31 L513.39,389.05 L513.57,386.52 L513.74,385.30 L513.87,386.31 L514.00,387.91 L514.19,383.96 L514.31,385.20 L514.45,387.92 L514.57,386.91 L514.77,389.03 L514.92,388.10 L515.08,388.79 L515.24,384.64 L515.37,388.10 L515.50,387.12 L515.69,389.18 L515.86,387.12 L515.98,388.56 L516.14,385.77 L516.31,388.53 L516.42,384.46 L516.55,386.42 L516.69,383.73 L516.86,388.62 L517.03,384.63 L517.22,388.59 L517.33,387.84 L517.46,387.42 L517.58,388.68 L517.74,390.49 L517.91,386.56 L518.10,386.84 L518.30,387.40 L518.48,385.71 L518.65,385.71 L518.79,391.60 L518.95,384.31 L519.10,385.47 L519.30,384.96 L519.50,386.40 L519.63,383.99 L519.82,388.82 L520.02,387.99 L520.21,391.56 L520.41,389.31 L520.53,386.68 L520.66,388.76 L520.82,387.38 L521.01,385.76 L521.20,387.20 L521.38,385.14 L521.57,385.79 L521.69,389.45 L521.83,387.33 L521.94,386.64 L522.09,388.80 L522.29,387.98 L522.49,382.41 L522.60,385.60 L522.72,384.53 L522.93,385.01 L523.12,389.03 L523.25,386.98 L523.39,385.74 L523.80,389.00 L524.30,395.00 L524.50,399.60 L524.80,394.00 L525.50,390.00 L526.00,392.50 L526.50,394.20 L527.20,389.00 L528.00,384.60 L528.80,386.20 L529.50,387.20 L530.00,386.00 L530.50,385.40 L531.00,389.00 L531.50,391.40 L532.20,391.80 L533.00,392.00 L533.40,386.00 L533.80,380.00 L534.00,377.65 L534.42,376.68 L534.76,375.48 L535.10,374.80 L535.51,374.74 L535.77,376.44 L536.19,375.32 L536.52,375.15 L536.92,376.75 L537.18,375.50 L537.53,375.62 L537.80,376.47 L538.17,375.83 L538.52,377.75 L538.92,374.47 L539.25,377.25 L539.49,375.70 L539.83,375.91 L540.20,376.29 L540.56,376.21 L540.86,377.38 L541.12,378.45 L541.53,377.86 L541.88,376.69 L542.15,378.01 L542.46,377.42 L542.78,375.28 L543.17,375.04 L543.50,375.82 L543.76,378.84 L544.00,376.26 L544.37,377.09 L544.64,377.08 L544.90,378.32 L545.31,375.67 L545.74,377.27 L546.06,375.42 L546.42,373.79 L546.81,375.54 L547.16,376.49 L547.44,376.65 L547.74,375.63 L548.07,373.94 L548.43,376.98 L548.85,375.03 L549.11,377.68 L549.35,376.16 L549.60,374.21 L549.91,374.32 L550.15,376.05 L550.45,375.56 L550.82,375.06 L551.11,376.44 L551.44,375.76 L551.75,377.53 L552.01,375.55 L552.42,375.56 L552.72,373.62 L553.04,374.76 L553.28,375.67 L553.57,376.71 L553.82,377.12 L554.15,375.68 L554.52,375.15 L554.95,375.46 L555.23,376.67 L555.65,375.78 L555.88,374.85 L556.12,374.72 L556.45,376.06 L556.86,376.71 L557.19,376.85 L557.51,374.81 L557.78,374.02 L558.16,374.78 L558.43,373.55 L558.81,374.18 L559.14,374.42 L559.47,374.29 L559.86,374.73 L560.21,376.10 L560.60,375.72 L561.01,375.01 L561.40,374.14 L561.73,374.84 L562.00,374.80 L562.24,375.33 L562.65,374.30 L563.06,374.58 L563.38,372.92 L563.67,373.49 L563.91,374.55 L564.32,372.08 L564.65,374.03 L564.94,376.28 L565.34,375.90 L565.77,373.18 L566.19,374.74 L566.57,372.93 L566.82,373.12 L567.15,374.92 L567.44,374.37 L567.70,373.00 L567.96,372.70 L568.32,374.75 L568.64,374.65 L569.00,374.35 L569.32,373.74 L569.62,373.16 L569.90,373.35 L570.24,373.14 L570.61,373.65 L570.90,373.67 L571.17,372.46 L571.41,372.95 L571.67,372.57 L572.00,372.10 L572.34,372.06 L572.60,373.22 L573.00,370.93 L573.38,374.31 L573.72,373.40 L574.14,372.32 L574.39,373.83 L574.78,371.71 L575.15,371.04 L575.53,372.23 L575.94,373.05 L576.34,371.28 L576.62,371.20 L577.05,371.08 L577.34,370.39 L577.72,371.92 L578.10,370.25 L578.41,371.07 L578.82,371.23 L579.24,370.39 L579.57,370.13 L579.84,371.99 L580.00,370.09 L580.24,370.15 L580.55,371.24 L580.81,366.81 L581.20,369.25 L581.48,370.60 L581.78,371.97 L582.03,370.00 L582.38,370.58 L582.78,368.59 L583.13,366.36 L583.53,371.06 L583.92,368.78 L584.18,368.73 L584.50,368.11 L584.78,369.93 L585.02,368.00 L585.29,368.44 L585.69,369.64 L586.08,368.50 L586.49,368.06 L586.75,365.16 L587.17,367.45 L587.57,368.36 L587.90,368.22 L588.19,367.30 L588.47,367.77 L588.74,368.38 L589.07,367.86 L589.41,364.72 L589.73,366.10 L590.11,368.65 L590.36,362.29 L590.68,366.37 L591.08,366.48 L591.43,364.41 L591.86,365.93 L592.28,363.30 L592.52,366.36 L592.93,367.00 L593.24,367.50 L593.55,362.34 L593.95,366.22 L594.28,364.66 L594.51,365.91 L594.90,365.55 L595.23,363.06 L595.63,363.48 L595.89,364.07 L596.13,364.86 L596.36,362.80 L596.63,361.87 L597.04,361.10 L597.40,365.00 L597.73,362.24 L597.96,364.02 L598.27,361.88 L598.69,363.53 L599.08,362.34 L599.49,362.34 L599.80,361.97 L600.21,361.18 L600.60,360.53 L601.00,363.26 L601.27,360.68 L601.68,360.75 L602.05,360.72 L602.37,362.38 L602.74,364.05 L603.02,358.24 L603.33,361.18 L603.70,360.66 L604.04,357.39 L604.42,359.90 L604.73,357.89 L605.11,358.46 L605.45,361.29 L605.87,358.90 L606.13,360.17 L606.41,356.28 L606.78,359.25 L607.04,361.97 L607.32,358.28 L607.59,357.42 L607.93,357.91 L608.20,358.12 L608.45,359.92 L608.77,356.88 L609.11,356.75 L609.40,359.78 L609.65,356.39 L609.92,356.40 L610.16,359.51 L610.45,357.70 L610.71,357.76 L611.10,357.92 L611.43,355.29 L611.74,355.42 L611.98,358.44 L612.37,355.76 L612.65,357.41 L613.06,356.00 L613.38,357.50 L613.64,357.13 L613.90,356.56 L614.26,355.62 L614.54,355.54 L614.87,356.27 L615.21,355.50 L615.63,357.72 L615.91,354.95 L616.18,356.41 L616.54,357.17 L616.81,352.87 L617.05,354.47 L617.42,354.56 L617.70,354.67 L618.03,354.45 L618.28,353.75 L618.69,354.70 L618.99,353.61 L619.42,350.48 L619.67,352.79 L619.94,351.87 L620.33,354.16 L620.68,353.19 L621.07,354.76 L621.41,354.08 L621.81,352.55 L622.04,354.22 L622.47,354.30 L622.88,351.22 L623.30,349.59 L623.56,348.51 L623.89,353.03 L624.28,349.31 L624.71,352.56 L625.07,348.91 L625.49,350.78 L625.88,352.50 L626.15,352.21 L626.40,351.61 L626.69,351.77 L627.01,348.59 L627.30,349.75 L627.60,349.14 L628.02,351.93 L628.40,350.50 L628.78,349.56 L629.02,348.97 L629.44,349.19 L629.82,349.33 L630.23,347.94 L630.55,350.38 L630.82,349.91 L631.11,349.58 L631.49,346.41 L631.75,349.07 L632.14,347.34 L632.52,348.62 L632.77,348.18 L633.19,348.51 L633.50,346.86 L633.91,348.56 L634.20,344.52 L634.43,345.05 L634.82,346.33 L635.11,346.85 L635.46,346.03 L635.84,346.63 L636.14,345.65 L636.41,346.52 L636.76,345.80 L637.09,344.20 L637.47,342.91 L637.73,348.14 L638.15,344.87 L638.57,344.88 L638.91,346.35 L639.21,343.58 L639.60,345.01 L639.99,343.81 L640.32,348.57 L640.61,342.34 L640.89,341.76 L641.19,343.53 L641.57,344.46 L641.93,343.10 L642.25,343.50 L642.62,346.72 L642.90,344.34 L643.21,343.45 L643.55,345.74 L643.93,341.56 L644.26,340.22 L644.61,340.10 L644.87,340.53 L645.15,342.46 L645.55,341.51 L645.83,340.93 L646.22,339.98 L646.57,343.37 L646.86,340.64 L647.25,340.95 L647.54,342.48 L647.85,340.61 L648.18,339.73 L648.55,340.46 L648.87,340.50 L649.14,343.59 L649.52,339.42 L649.81,339.34 L650.08,340.58 L650.34,338.68 L650.77,341.04 L651.15,343.08 L651.56,338.51 L651.79,336.96 L652.10,340.73 L652.50,337.60 L652.81,336.84 L653.15,337.44 L653.55,337.65 L653.84,340.40 L654.26,337.78 L654.55,337.26 L654.89,336.55 L655.12,337.57 L655.51,338.59 L655.79,335.79 L656.10,337.94 L656.36,335.45 L656.63,338.57 L657.00,338.59 L657.36,334.42 L657.66,336.15 L658.05,336.83 L658.46,334.92 L658.70,333.68 L659.11,335.02 L659.40,333.28 L659.65,333.97 L659.90,335.83 L660.28,335.67 L660.55,335.91 L660.93,333.66 L661.34,335.10 L661.77,333.33 L662.12,335.34 L662.51,336.59 L662.83,333.47 L663.08,335.13 L663.49,338.75 L663.79,334.20 L664.04,335.96 L664.40,338.11 L664.71,334.35 L665.10,332.29 L665.51,334.48 L665.88,334.55 L666.30,334.95 L666.63,333.22 L666.89,334.18 L667.31,330.04 L667.57,330.83 L667.82,334.11 L668.23,331.75 L668.62,332.29 L668.93,332.39 L669.20,332.05 L669.60,333.14 L669.85,331.02 L670.20,331.92 L670.44,331.86 L670.71,330.83 L670.95,330.77 L671.22,328.01 L671.48,332.18 L671.77,330.74 L672.06,330.71 L672.38,329.86 L672.68,329.32 L672.98,332.39 L673.30,329.65 L673.54,331.28 L673.82,330.26 L674.13,329.01 L674.43,327.88 L674.78,329.58 L675.03,329.09 L675.37,329.16 L675.79,330.37 L676.11,325.43 L676.47,328.66 L676.80,329.58 L677.09,327.54 L677.38,326.90 L677.76,326.59 L678.06,326.74 L678.36,327.20 L678.67,326.36 L678.99,325.58 L679.34,325.55 L679.72,326.11 L680.15,326.35 L680.55,328.69 L680.92,326.84 L681.30,323.77 L681.65,325.57 L682.02,326.26 L682.38,326.10 L682.68,325.01 L683.05,325.24 L683.46,324.47 L683.78,325.89 L684.11,328.11 L684.52,326.02 L684.77,325.54 L685.08,324.13 L685.44,323.20 L685.71,322.67 L686.09,322.68 L686.48,324.82 L686.72,325.57 L686.95,322.04 L687.30,324.11 L687.68,322.37 L687.97,322.67 L688.30,321.70 L688.65,322.54 L688.94,321.48 L689.34,320.53 L689.70,322.21 L689.94,322.44 L690.29,321.16 L690.68,322.77 L690.97,323.03 L691.37,319.54 L691.77,319.37 L692.15,319.39 L692.43,318.52 L692.84,320.25 L693.26,318.82 L693.57,320.47 L693.91,319.52 L694.24,319.20 L694.66,317.30 L695.01,318.45 L695.24,317.63 L695.57,319.70 L695.92,319.55 L696.17,317.86 L696.49,315.77 L696.88,318.66 L697.20,315.12 L697.57,317.47 L697.83,319.80 L698.21,315.99 L698.54,318.33 L698.88,317.42 L699.31,318.16 L699.71,319.12 L699.99,318.87 L700.28,314.58 L700.60,315.64 L700.96,317.21 L701.29,316.72 L701.67,317.47 L701.91,315.78 L702.29,316.01 L702.63,317.05 L703.01,316.84 L703.30,315.11 L703.72,315.89 L703.95,317.79 L704.23,314.62 L704.56,316.69 L704.79,315.93 L705.12,314.44 L705.39,314.47 L705.77,315.32 L706.10,312.44 L706.48,314.94 L706.90,315.61 L707.24,315.64 L707.59,311.55 L707.93,313.67 L708.30,313.11 L708.61,316.87 L708.89,315.64 L709.16,315.35 L709.43,315.79 L709.70,318.51 L710.03,318.75 L710.29,319.49 L710.53,317.16 L710.88,317.51 L711.18,317.13 L711.53,317.57 L711.80,317.16 L712.20,316.85 L712.59,317.35 L712.87,316.97 L713.16,318.64 L713.52,316.73 L713.83,317.93 L714.15,316.18 L714.45,315.35 L714.82,315.88 L715.06,316.10 L715.48,315.09 L715.84,318.49 L716.23,315.83 L716.55,315.73 L716.80,315.78 L717.15,313.65 L717.54,317.01 L717.80,314.28 L718.20,313.39 L718.45,312.87 L718.71,316.64 L719.09,315.97 L719.48,314.73" stroke="#008000" stroke-width="0.95"/>
</g>
<path d="M100.00,60.00 H720.00 V540.00 H100.00 Z" stroke="#000" stroke-width="1.4" fill="none"/>
<path d="M101,539.5 H719" stroke="#800080" stroke-width="1" stroke-opacity="0.33" fill="none"/>
<g stroke="#000" stroke-width="0.78" fill="none">
<path d="M153.50,540.00 V534.60"/>
<path d="M153.50,60.00 V66.30"/>
<path d="M291.50,540.00 V534.60"/>
<path d="M291.50,60.00 V66.30"/>
<path d="M428.50,540.00 V534.60"/>
<path d="M428.50,60.00 V66.30"/>
<path d="M566.50,540.00 V534.60"/>
<path d="M566.50,60.00 V66.30"/>
<path d="M704.50,540.00 V534.60"/>
<path d="M704.50,60.00 V66.30"/>
<path d="M100.00,480.50 H106.30"/>
<path d="M720.00,480.50 H714.60"/>
<path d="M100.00,420.50 H106.30"/>
<path d="M720.00,420.50 H714.60"/>
<path d="M100.00,361.50 H106.30"/>
<path d="M720.00,361.50 H714.60"/>
<path d="M100.00,301.50 H106.30"/>
<path d="M720.00,301.50 H714.60"/>
<path d="M100.00,241.50 H106.30"/>
<path d="M720.00,241.50 H714.60"/>
<path d="M100.00,182.50 H106.30"/>
<path d="M720.00,182.50 H714.60"/>
<path d="M100.00,122.50 H106.30"/>
<path d="M720.00,122.50 H714.60"/>
<path d="M100.00,62.50 H106.30"/>
<path d="M720.00,62.50 H714.60"/>
</g>
<g style="will-change:transform">
<text x="85.80" y="544.60" font-size="16.30" textLength="9.76" lengthAdjust="spacingAndGlyphs">0</text>
<text x="86.30" y="484.95" font-size="16.30" textLength="9.26" lengthAdjust="spacingAndGlyphs">5</text>
<text x="75.17" y="425.30" font-size="16.30" textLength="20.39" lengthAdjust="spacingAndGlyphs">10</text>
<text x="75.17" y="365.65" font-size="16.30" textLength="20.39" lengthAdjust="spacingAndGlyphs">15</text>
<text x="75.60" y="306.00" font-size="16.30" textLength="19.96" lengthAdjust="spacingAndGlyphs">20</text>
<text x="75.60" y="246.35" font-size="16.30" textLength="19.96" lengthAdjust="spacingAndGlyphs">25</text>
<text x="75.60" y="186.70" font-size="16.30" textLength="19.96" lengthAdjust="spacingAndGlyphs">30</text>
<text x="75.60" y="127.05" font-size="16.30" textLength="19.96" lengthAdjust="spacingAndGlyphs">35</text>
<text x="75.60" y="67.40" font-size="16.30" textLength="19.96" lengthAdjust="spacingAndGlyphs">40</text>
<text x="129.62" y="555.80" font-size="16.30" textLength="48.25" lengthAdjust="spacingAndGlyphs">15:00</text>
<text x="125.50" y="569.80" font-size="16.30" textLength="27.86" lengthAdjust="spacingAndGlyphs">Apr</text>
<text x="159.50" y="569.80" font-size="16.30" textLength="20.66" lengthAdjust="spacingAndGlyphs">08</text>
<text x="268.50" y="555.80" font-size="16.30" textLength="47.06" lengthAdjust="spacingAndGlyphs">23:00</text>
<text x="263.20" y="569.80" font-size="16.30" textLength="27.86" lengthAdjust="spacingAndGlyphs">Apr</text>
<text x="297.20" y="569.80" font-size="16.30" textLength="20.66" lengthAdjust="spacingAndGlyphs">08</text>
<text x="406.20" y="555.80" font-size="16.30" textLength="47.06" lengthAdjust="spacingAndGlyphs">07:00</text>
<text x="400.90" y="569.80" font-size="16.30" textLength="27.86" lengthAdjust="spacingAndGlyphs">Apr</text>
<text x="434.90" y="569.80" font-size="16.30" textLength="20.66" lengthAdjust="spacingAndGlyphs">09</text>
<text x="542.82" y="555.80" font-size="16.30" textLength="48.25" lengthAdjust="spacingAndGlyphs">15:00</text>
<text x="538.70" y="569.80" font-size="16.30" textLength="27.86" lengthAdjust="spacingAndGlyphs">Apr</text>
<text x="572.70" y="569.80" font-size="16.30" textLength="20.66" lengthAdjust="spacingAndGlyphs">09</text>
<text x="681.70" y="555.80" font-size="16.30" textLength="47.06" lengthAdjust="spacingAndGlyphs">23:00</text>
<text x="676.40" y="569.80" font-size="16.30" textLength="27.86" lengthAdjust="spacingAndGlyphs">Apr</text>
<text x="710.40" y="569.80" font-size="16.30" textLength="20.66" lengthAdjust="spacingAndGlyphs">09</text>
<text x="362.45" y="591.80" font-size="16.30" textLength="39.72" lengthAdjust="spacingAndGlyphs">Date</text>
<text x="407.75" y="591.80" font-size="16.30" textLength="49.60" lengthAdjust="spacingAndGlyphs">(GMT)</text>
<g transform="translate(67.9,367.7) rotate(-90)"><text x="0.00" y="0.00" font-size="16.30" textLength="107.51" lengthAdjust="spacingAndGlyphs">Temperature</text><text x="113.20" y="0.00" font-size="16.30" textLength="22.68" lengthAdjust="spacingAndGlyphs">(C)</text></g>
<text x="281.50" y="45.10" font-size="20.00" textLength="76.28" lengthAdjust="spacingAndGlyphs">APOLLO</text>
<text x="365.01" y="45.10" font-size="20.00" textLength="29.67" lengthAdjust="spacingAndGlyphs">ILE</text>
<text x="401.60" y="45.10" font-size="20.00" textLength="137.80" lengthAdjust="spacingAndGlyphs">Temperatures</text>
</g>
<rect x="112.35" y="69.7" width="202.95" height="73.4" fill="#ffffff" stroke="#000" stroke-width="1.4"/>
<path d="M131.0,80.50 H163.1" stroke="#ff0000" stroke-width="0.78" fill="none"/>
<path d="M131.0,96.40 H163.1" stroke="#0000ff" stroke-width="0.78" fill="none"/>
<path d="M131.0,113.50 H163.1" stroke="#800080" stroke-width="0.78" fill="none"/>
<path d="M131.0,130.85 H163.1" stroke="#008000" stroke-width="0.78" fill="none"/>
<g style="will-change:transform">
<text x="175.18" y="83.75" font-size="13.20" textLength="38.70" lengthAdjust="spacingAndGlyphs">MV70</text>
<text x="175.23" y="97.60" font-size="13.20" textLength="66.93" lengthAdjust="spacingAndGlyphs">ILE_WALL</text>
<text x="175.26" y="115.60" font-size="13.20" textLength="123.69" lengthAdjust="spacingAndGlyphs">ILE_EXHAUST_AIR</text>
<text x="175.27" y="132.50" font-size="13.20" textLength="76.12" lengthAdjust="spacingAndGlyphs">ILE_INTAKE</text>
</g>
</svg>
</body></html>
